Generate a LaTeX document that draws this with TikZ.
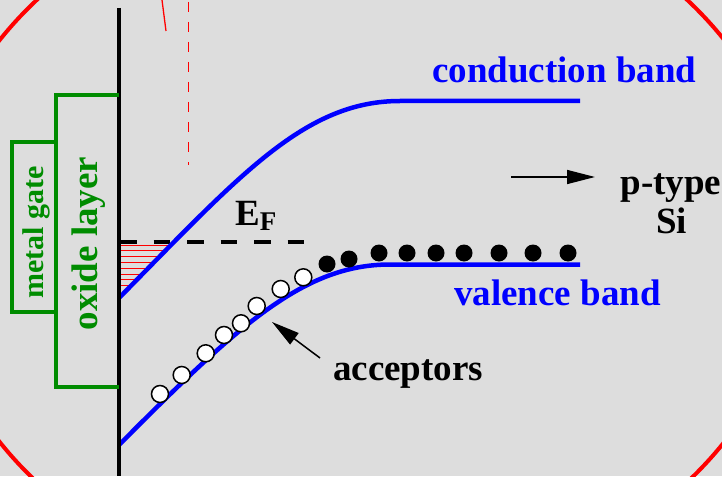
\documentclass[tikz,border=0pt]{standalone}
\usepackage{fontspec}
\setmainfont{Liberation Serif}
\usetikzlibrary{positioning}
\usetikzlibrary{arrows.meta}

\definecolor{bggray}{RGB}{221,221,221}
\definecolor{gategreen}{RGB}{0,140,0}

\begin{document}
\begin{tikzpicture}[x=1pt, y=-1pt,
    band/.style={blue, line width=4.5pt},
    lbl/.style={inner sep=0pt, font=\bfseries\fontsize{37}{40}\selectfont},
    ptr/.style={line width=1.5pt, -{Triangle[length=28pt, width=14pt]}},
    ion/.style={circle, draw=black, fill=white, line width=1.5pt, minimum size=17pt, inner sep=0pt},
    hole/.style={circle, fill=black, minimum size=17pt, inner sep=0pt}]

    \clip (0,0) rectangle (722,476);
    \fill[bggray] (0,0) rectangle (722,476);
    \draw[red, line width=4pt] (362,241) ellipse [x radius=435pt, y radius=363pt];

    \draw[red, line width=1.3pt] (162,0) -- (166,31);
    \draw[red, line width=1.3pt, dash pattern=on 10pt off 10pt] (188.5,2) -- (188.5,165);

    \begin{scope}
        \clip (119,298) .. controls (240,175) and (305,101) .. (400,101) -- (400,0) -- (119,0) -- cycle;
        \foreach \y in {245,250.8,...,287}
            \draw[red, line width=1pt] (119,\y) -- (220,\y);
    \end{scope}

    \draw[line width=4pt, dash pattern=on 16.5pt off 17pt] (120,242) -- (303.5,242);

    \draw[band] (119,298) .. controls (240,175) and (305,101) .. (400,101) -- (580,101);
    \draw[band] (119,445) .. controls (240,323) and (305,264.5) .. (390,264.5) -- (580,264.5);

    \draw[line width=4.5pt] (119,8) -- (119,476);

    \draw[gategreen, line width=4pt] (119,95.5) -- (56,95.5) -- (56,387) -- (119,387);
    \draw[gategreen, line width=4pt] (56,142) -- (12,142) -- (12,312) -- (56,312);

    \node[lbl, gategreen, rotate=90, anchor=base] (oxide) at (97,243.5) {oxide layer};
    \node[lbl, gategreen, rotate=90, anchor=base, font=\bfseries\fontsize{30}{32}\selectfont] (gate) at (43,232.5) {metal gate};

    \foreach \x/\y [count=\i] in {160/394, 181.7/375, 205.7/353.3, 224/335, 241/323.3, 256.7/306, 280.7/289, 303.3/277.3}
        \node[ion] (ion\i) at (\x,\y) {};
    \foreach \x/\y [count=\i] in {327/264, 349/259, 379/253, 407/253, 436/253, 464/253, 499/253, 533/253, 568/253}
        \node[hole] (hole\i) at (\x,\y) {};

    \node[lbl, anchor=base west] (ef) at (235,225) {E\raisebox{-5pt}{\fontsize{27}{30}\selectfont F}};
    \node[lbl, blue, anchor=base west] (cband) at (432,83) {conduction band};
    \node[lbl, blue, anchor=base west] (vband) at (454,305) {valence band};
    \node[lbl, anchor=base west] (acc) at (333,380) {acceptors};
    \node[lbl, anchor=base] (ptype) at (671,194) {p-type};
    \node[lbl, anchor=base] (si) at (671.5,233) {Si};

    \coordinate (accTail) at (320,358);
    \coordinate (accTip) at (272,322);
    \coordinate (pTail) at (511,177);
    \coordinate (pTip) at (595,177);
    \draw[ptr] (accTail) -- (accTip);
    \draw[ptr] (pTail) -- (pTip);

\end{tikzpicture}
\end{document}
